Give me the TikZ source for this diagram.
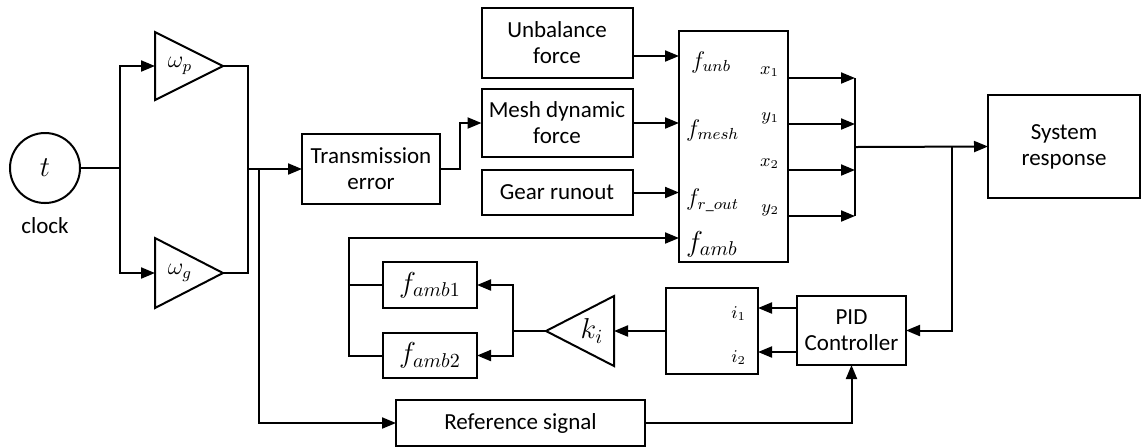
\documentclass[tikz,border=0pt]{standalone}
\usepackage{amsmath, amssymb}
\usepackage{fontspec}
\setmainfont{Carlito}
\usetikzlibrary{arrows.meta, positioning, calc}

\tikzset{
    blk/.style={draw, line width=1pt, rectangle, align=center, inner sep=0pt, outer sep=0pt},
    arr/.style={-{Triangle[length=7pt,width=5.5pt]}, line width=1pt},
    wire/.style={line width=1pt},
    amp/.style={draw, line width=1pt, line join=miter}
}

\begin{document}
\begin{tikzpicture}[x=0.5pt, y=-0.5pt, font=\fontsize{11.5}{13}\selectfont]
                \useasboundingbox (0,0) rectangle (1141,447);

                % Clock
                \node[draw, circle, line width=1pt, minimum size=35pt, inner sep=0pt] (clk) at (45,168) {\Large $t$};
                \node (clklbl) at (45,226) {clock};

                % Gains
                \draw[amp] (155,32) coordinate (wpin0) -- (223,66) coordinate (wptip) -- (155,100) -- cycle;
                \coordinate (wpin) at (155,66);
                \node (wplbl) at (180,66) {\large $\omega_{p}$};
                \draw[amp] (155,238) -- (223,273) coordinate (wgtip) -- (155,308) -- cycle;
                \coordinate (wgin) at (155,273);
                \node (wglbl) at (180,273) {\large $\omega_{g}$};

                \coordinate (jclk) at (120,168);
                \draw[wire] (clk.east) -- (jclk);
                \draw[arr] (jclk) |- (wpin);
                \draw[arr] (jclk) |- (wgin);

                % Blocks
                \node[blk, minimum width=69pt, minimum height=35pt] (te) at (371,169) {Transmission\\error};
                \node[blk, minimum width=75.5pt, minimum height=35pt] (unb) at (557,43) {Unbalance\\force};
                \node[blk, minimum width=75.5pt, minimum height=34pt] (mesh) at (557,123) {Mesh dynamic\\force};
                \node[blk, minimum width=75.5pt, minimum height=22.5pt] (runout) at (557,192.5) {Gear runout};
                \node[blk, minimum width=54.5pt, minimum height=115.5pt] (gear) at (733.5,146.5) {};
                \node[blk, minimum width=76pt, minimum height=51.5pt] (resp) at (1064,146.5) {System\\response};
                \node[blk, minimum width=47pt, minimum height=23pt] (famba) at (430,285) {\Large $f_{amb1}$};
                \node[blk, minimum width=47pt, minimum height=22.5pt] (fambb) at (430,355.5) {\Large $f_{amb2}$};
                \node[blk, minimum width=46pt, minimum height=43pt] (demux) at (712,331) {};
                \node[blk, minimum width=54.5pt, minimum height=34.5pt] (pid) at (851.5,330.5) {PID\\Controller};
                \node[blk, minimum width=124.5pt, minimum height=23pt] (ref) at (520.5,423) {Reference signal};

                % Current gain
                \draw[amp] (614,296) -- (546,331) coordinate (kitip) -- (614,366) -- cycle;
                \coordinate (kiin) at (614,331);
                \node (kilbl) at (592,331) {\Large $k_{i}$};

                % Ports of the gear model
                \coordinate (in1) at (679,56);
                \coordinate (in2) at (679,123);
                \coordinate (in3) at (679,192.5);
                \coordinate (in4) at (679,238);
                \coordinate (out1) at (788,78);
                \coordinate (out2) at (788,124);
                \coordinate (out3) at (788,170);
                \coordinate (out4) at (788,216);
                \node[anchor=west] (funb) at (684,62) {\large $f_{unb}$};
                \node[anchor=west] (fmesh) at (679,130) {\large $f_{mesh}$};
                \node[anchor=west] (frout) at (679,200) {\large $f_{r\_out}$};
                \node[anchor=west] (famb) at (679,244) {\Large $f_{amb}$};
                \node[anchor=east] (lx1) at (786,72) {\small $x_{1}$};
                \node[anchor=east] (ly1) at (786,118) {\small $y_{1}$};
                \node[anchor=east] (lx2) at (786,164) {\small $x_{2}$};
                \node[anchor=east] (ly2) at (786,210) {\small $y_{2}$};
                \node[anchor=east] (li1) at (753,314) {\small $i_{1}$};
                \node[anchor=east] (li2) at (753,358) {\small $i_{2}$};

                % Forward path
                \coordinate (jsum) at (248,169);
                \coordinate (jref) at (259,169);
                \draw[wire] (wptip) -| (jsum) |- (wgtip);
                \draw[arr] (jsum) -- (te.west);
                \draw[arr] (jref) |- (ref.west);
                \draw[arr] (te.east) -- ++(20,0) |- (mesh.west);
                \draw[arr] (unb.east |- in1) -- (in1);
                \draw[arr] (mesh.east) -- (in2);
                \draw[arr] (runout.east) -- (in3);

                % Outputs
                \coordinate (bus) at (855,147);
                \coordinate (jfb) at (952,147);
                \foreach \k in {1,2,3,4}
                    \draw[arr] (out\k) -- (out\k -| bus);
                \draw[wire] (out1 -| bus) -- (out4 -| bus);
                \draw[arr] (bus) -- (resp.west);

                % Feedback
                \draw[arr] (jfb) |- (pid.east);
                \draw[arr] (ref.east) -| (pid.south);
                \draw[arr] (pid.west |- 0,308) -- (demux.east |- 0,308);
                \draw[arr] (pid.west |- 0,352) -- (demux.east |- 0,352);
                \draw[arr] (demux.west) -- (kiin);
                \coordinate (jki) at (513,331);
                \draw[wire] (kitip) -- (jki);
                \draw[arr] (jki) |- (famba.east);
                \draw[arr] (jki) |- (fambb.east);
                \coordinate (jamb) at (349,285);
                \draw[wire] (famba.west) -- (jamb);
                \draw[arr] (fambb.west) -| (jamb) |- (in4);
            \end{tikzpicture}
\end{document}
